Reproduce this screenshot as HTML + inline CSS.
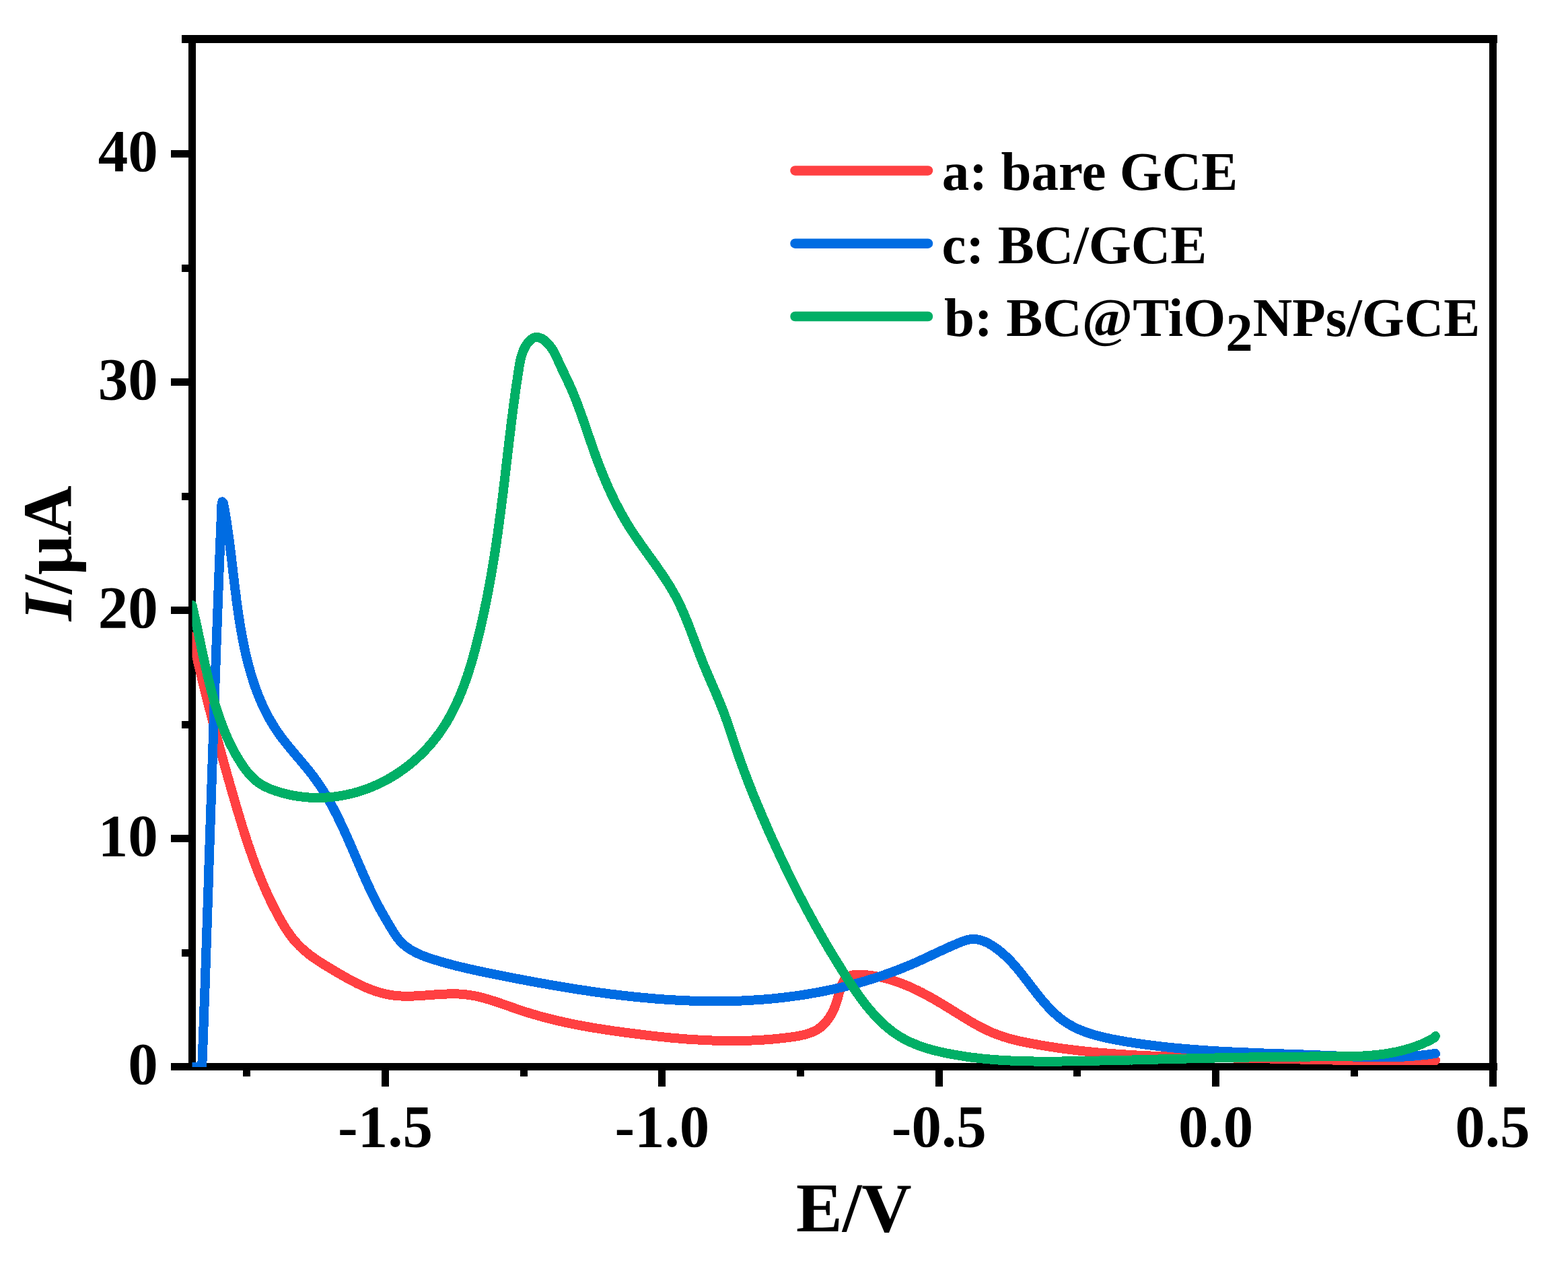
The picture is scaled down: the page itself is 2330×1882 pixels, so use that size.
<!DOCTYPE html><html><head><meta charset="utf-8"><title>I/μA vs E/V</title><style>html,body{margin:0;padding:0;background:#fff}svg{display:block}text{font-family:"Liberation Serif","Times New Roman",serif;font-weight:bold;fill:#000}</style></head><body>
<svg width="2330" height="1882" viewBox="0 0 2330 1882">
<rect width="2330" height="1882" fill="#fff"/>
<g fill="#000" shape-rendering="crispEdges"><rect x="270.0" y="52.0" width="1955.0" height="12.0"/><rect x="280.0" y="52.0" width="11.0" height="1538.0"/><rect x="2213.0" y="52.0" width="11.0" height="1562.0"/><rect x="254.0" y="1579.0" width="1971.0" height="11.0"/><rect x="254.0" y="1240.4" width="26.0" height="11.0"/><rect x="254.0" y="901.3" width="26.0" height="11.0"/><rect x="254.0" y="562.2" width="26.0" height="11.0"/><rect x="254.0" y="223.1" width="26.0" height="11.0"/><rect x="270.0" y="1410.0" width="10.0" height="11.0"/><rect x="270.0" y="1070.8" width="10.0" height="11.0"/><rect x="270.0" y="731.8" width="10.0" height="11.0"/><rect x="270.0" y="392.7" width="10.0" height="11.0"/><rect x="567.0" y="1590.0" width="11.0" height="24.0"/><rect x="978.4" y="1590.0" width="11.0" height="24.0"/><rect x="1389.7" y="1590.0" width="11.0" height="24.0"/><rect x="1801.0" y="1590.0" width="11.0" height="24.0"/><rect x="361.4" y="1590.0" width="11.0" height="9.0"/><rect x="772.7" y="1590.0" width="11.0" height="9.0"/><rect x="1184.0" y="1590.0" width="11.0" height="9.0"/><rect x="1595.4" y="1590.0" width="11.0" height="9.0"/><rect x="2006.7" y="1590.0" width="11.0" height="9.0"/></g>
<g style="font-size:89px">
<text x="234.7" y="1610.0" text-anchor="end">0</text>
<text x="234.7" y="1270.9" text-anchor="end">10</text>
<text x="234.7" y="931.8" text-anchor="end">20</text>
<text x="234.7" y="592.7" text-anchor="end">30</text>
<text x="234.7" y="253.6" text-anchor="end">40</text>
<text x="572.5" y="1702.5" text-anchor="middle">-1.5</text>
<text x="983.9" y="1702.5" text-anchor="middle">-1.0</text>
<text x="1395.2" y="1702.5" text-anchor="middle">-0.5</text>
<text x="1806.5" y="1702.5" text-anchor="middle">0.0</text>
<text x="2217.9" y="1702.5" text-anchor="middle">0.5</text>
</g>
<text x="1183" y="1829" style="font-size:103px">E/V</text>
<text transform="translate(105.7,922.6) rotate(-90)" style="font-size:103px"><tspan font-style="italic">I</tspan>/μA</text>
<defs><clipPath id="pc"><rect x="285.5" y="58" width="1933" height="1527"/></clipPath></defs>
<g clip-path="url(#pc)" shape-rendering="crispEdges" fill="none" stroke-width="14" stroke-linejoin="round" stroke-linecap="round">
<path stroke="#FF4042" d="M285.5,945.5 L286.0,948.5 L286.7,951.4 L287.4,954.3 L288.0,957.2 L288.7,960.2 L289.4,963.1 L290.1,966.0 L290.7,968.9 L291.4,971.8 L292.1,974.7 L292.8,977.7 L293.5,980.6 L294.2,983.5 L294.9,986.4 L295.6,989.3 L296.3,992.2 L297.0,995.2 L297.7,998.1 L298.4,1001.0 L299.1,1003.9 L299.8,1006.8 L300.5,1009.7 L301.2,1012.6 L301.9,1015.5 L302.7,1018.5 L303.4,1021.4 L304.1,1024.3 L304.8,1027.2 L305.5,1030.1 L306.3,1033.0 L307.0,1035.9 L307.7,1038.8 L308.5,1041.7 L309.2,1044.7 L309.9,1047.6 L310.7,1050.5 L311.4,1053.4 L312.2,1056.3 L312.9,1059.2 L313.7,1062.1 L314.4,1065.0 L315.2,1067.9 L315.9,1070.8 L316.7,1073.7 L317.5,1076.6 L318.2,1079.5 L319.0,1082.4 L319.7,1085.3 L320.5,1088.2 L321.3,1091.1 L322.1,1094.0 L322.8,1096.9 L323.6,1099.8 L324.4,1102.7 L325.2,1105.6 L325.9,1108.5 L326.7,1111.4 L327.5,1114.3 L328.3,1117.2 L329.1,1120.1 L329.9,1123.0 L330.7,1125.9 L331.5,1128.8 L332.3,1131.7 L333.1,1134.6 L333.9,1137.4 L334.7,1140.3 L335.5,1143.2 L336.3,1146.1 L337.1,1149.0 L337.9,1151.9 L338.7,1154.8 L339.6,1157.7 L340.4,1160.5 L341.2,1163.4 L342.0,1166.3 L342.8,1169.2 L343.7,1172.1 L344.5,1175.0 L345.3,1177.8 L346.2,1180.7 L347.0,1183.6 L347.8,1186.5 L348.7,1189.4 L349.5,1192.2 L350.4,1195.1 L351.2,1198.0 L352.0,1200.9 L352.9,1203.7 L353.7,1206.6 L354.6,1209.5 L355.5,1212.3 L356.3,1215.2 L357.2,1218.1 L358.1,1220.9 L358.9,1223.8 L359.8,1226.7 L360.7,1229.5 L361.6,1232.4 L362.5,1235.2 L363.4,1238.1 L364.3,1241.0 L365.3,1243.8 L366.2,1246.6 L367.1,1249.5 L368.1,1252.3 L369.0,1255.2 L370.0,1258.0 L370.9,1260.8 L371.9,1263.7 L372.9,1266.5 L373.9,1269.3 L374.9,1272.1 L375.9,1275.0 L376.9,1277.8 L377.9,1280.6 L379.0,1283.4 L380.0,1286.2 L381.1,1289.0 L382.2,1291.8 L383.2,1294.6 L384.3,1297.4 L385.5,1300.2 L386.6,1302.9 L387.7,1305.7 L388.9,1308.5 L390.0,1311.3 L391.2,1314.0 L392.4,1316.8 L393.6,1319.5 L394.8,1322.3 L396.0,1325.0 L397.3,1327.8 L398.5,1330.5 L399.8,1333.2 L401.1,1336.0 L402.4,1338.7 L403.7,1341.4 L405.0,1344.1 L406.4,1346.8 L407.8,1349.5 L409.2,1352.2 L410.6,1354.9 L412.0,1357.6 L413.4,1360.2 L414.9,1362.9 L416.4,1365.6 L417.9,1368.2 L419.4,1370.8 L420.9,1373.4 L422.5,1376.0 L424.1,1378.6 L425.8,1381.1 L427.4,1383.6 L429.2,1386.1 L430.9,1388.5 L432.7,1390.9 L434.5,1393.3 L436.3,1395.6 L438.2,1397.8 L440.2,1400.0 L442.2,1402.2 L444.2,1404.3 L446.3,1406.4 L448.4,1408.4 L450.5,1410.3 L452.7,1412.3 L455.0,1414.1 L457.2,1416.0 L459.5,1417.8 L461.9,1419.6 L464.2,1421.3 L466.6,1423.0 L469.1,1424.7 L471.5,1426.4 L474.0,1428.0 L476.5,1429.6 L479.0,1431.2 L481.5,1432.8 L484.1,1434.4 L486.6,1435.9 L489.2,1437.5 L491.8,1439.0 L494.4,1440.6 L497.0,1442.1 L499.7,1443.7 L502.3,1445.2 L504.9,1446.8 L507.6,1448.3 L510.3,1449.8 L512.9,1451.3 L515.6,1452.8 L518.3,1454.3 L521.0,1455.8 L523.7,1457.2 L526.4,1458.6 L529.1,1460.0 L531.9,1461.4 L534.6,1462.7 L537.4,1464.0 L540.1,1465.3 L542.9,1466.5 L545.7,1467.7 L548.5,1468.8 L551.3,1469.9 L554.1,1471.0 L556.9,1472.0 L559.8,1472.9 L562.6,1473.8 L565.5,1474.6 L568.3,1475.4 L571.2,1476.1 L574.1,1476.8 L577.0,1477.3 L579.9,1477.9 L582.9,1478.3 L585.8,1478.7 L588.7,1479.0 L591.7,1479.2 L594.6,1479.4 L597.6,1479.6 L600.6,1479.7 L603.6,1479.7 L606.6,1479.7 L609.6,1479.7 L612.6,1479.6 L615.6,1479.5 L618.6,1479.4 L621.6,1479.2 L624.6,1479.0 L627.6,1478.9 L630.7,1478.6 L633.7,1478.4 L636.7,1478.2 L639.8,1478.0 L642.8,1477.8 L645.8,1477.5 L648.8,1477.3 L651.9,1477.1 L654.9,1476.9 L657.9,1476.8 L660.9,1476.6 L663.9,1476.5 L666.9,1476.4 L669.9,1476.3 L672.9,1476.3 L675.9,1476.3 L678.9,1476.4 L681.9,1476.5 L684.9,1476.6 L687.8,1476.9 L690.8,1477.1 L693.7,1477.5 L696.7,1477.8 L699.6,1478.3 L702.5,1478.8 L705.4,1479.3 L708.3,1479.9 L711.2,1480.6 L714.1,1481.3 L717.0,1482.0 L719.8,1482.8 L722.7,1483.6 L725.6,1484.4 L728.4,1485.3 L731.3,1486.2 L734.2,1487.1 L737.0,1488.0 L739.9,1489.0 L742.7,1489.9 L745.5,1490.9 L748.4,1491.9 L751.2,1492.9 L754.1,1493.9 L756.9,1494.9 L759.8,1495.9 L762.6,1496.9 L765.5,1497.9 L768.3,1498.9 L771.2,1499.9 L774.0,1500.8 L776.9,1501.8 L779.8,1502.7 L782.6,1503.6 L785.5,1504.5 L788.4,1505.4 L791.3,1506.3 L794.1,1507.1 L797.0,1507.9 L799.9,1508.8 L802.8,1509.6 L805.7,1510.4 L808.6,1511.1 L811.5,1511.9 L814.4,1512.6 L817.3,1513.4 L820.2,1514.1 L823.1,1514.8 L826.0,1515.5 L828.9,1516.2 L831.9,1516.9 L834.8,1517.5 L837.7,1518.2 L840.6,1518.8 L843.6,1519.4 L846.5,1520.1 L849.4,1520.7 L852.4,1521.3 L855.3,1521.8 L858.2,1522.4 L861.2,1523.0 L864.1,1523.5 L867.1,1524.1 L870.0,1524.6 L873.0,1525.1 L875.9,1525.7 L878.9,1526.2 L881.8,1526.7 L884.8,1527.2 L887.7,1527.6 L890.7,1528.1 L893.6,1528.6 L896.6,1529.0 L899.6,1529.5 L902.5,1529.9 L905.5,1530.4 L908.5,1530.8 L911.4,1531.3 L914.4,1531.7 L917.4,1532.1 L920.3,1532.5 L923.3,1532.9 L926.3,1533.3 L929.2,1533.7 L932.2,1534.1 L935.2,1534.5 L938.2,1534.9 L941.1,1535.3 L944.1,1535.6 L947.1,1536.0 L950.1,1536.4 L953.1,1536.7 L956.0,1537.1 L959.0,1537.4 L962.0,1537.8 L965.0,1538.1 L967.9,1538.5 L970.9,1538.8 L973.9,1539.1 L976.9,1539.5 L979.9,1539.8 L982.9,1540.1 L985.8,1540.4 L988.8,1540.7 L991.8,1541.0 L994.8,1541.3 L997.8,1541.6 L1000.8,1541.8 L1003.8,1542.1 L1006.7,1542.4 L1009.7,1542.6 L1012.7,1542.9 L1015.7,1543.1 L1018.7,1543.3 L1021.7,1543.6 L1024.7,1543.8 L1027.7,1544.0 L1030.7,1544.2 L1033.7,1544.4 L1036.7,1544.5 L1039.6,1544.7 L1042.6,1544.9 L1045.6,1545.0 L1048.6,1545.2 L1051.6,1545.3 L1054.6,1545.4 L1057.6,1545.5 L1060.6,1545.6 L1063.6,1545.7 L1066.6,1545.8 L1069.6,1545.9 L1072.6,1546.0 L1075.6,1546.0 L1078.6,1546.1 L1081.6,1546.1 L1084.6,1546.1 L1087.6,1546.1 L1090.6,1546.1 L1093.6,1546.1 L1096.6,1546.1 L1099.6,1546.0 L1102.7,1546.0 L1105.7,1545.9 L1108.7,1545.8 L1111.7,1545.7 L1114.7,1545.6 L1117.7,1545.5 L1120.7,1545.4 L1123.7,1545.2 L1126.7,1545.1 L1129.7,1544.9 L1132.7,1544.7 L1135.8,1544.5 L1138.8,1544.3 L1141.8,1544.1 L1144.8,1543.8 L1147.8,1543.6 L1150.8,1543.3 L1153.8,1543.0 L1156.9,1542.7 L1159.9,1542.4 L1162.9,1542.1 L1165.9,1541.7 L1168.9,1541.4 L1171.9,1541.0 L1175.0,1540.6 L1178.0,1540.2 L1181.0,1539.7 L1184.0,1539.2 L1187.0,1538.7 L1189.9,1538.1 L1192.8,1537.5 L1195.7,1536.8 L1198.6,1536.0 L1201.4,1535.1 L1204.1,1534.2 L1206.8,1533.1 L1209.4,1532.0 L1212.0,1530.7 L1214.5,1529.3 L1216.9,1527.7 L1219.2,1526.0 L1221.4,1524.2 L1223.6,1522.2 L1225.6,1520.1 L1227.6,1517.9 L1229.4,1515.6 L1231.2,1513.1 L1232.9,1510.6 L1234.5,1508.0 L1236.1,1505.2 L1237.5,1502.4 L1238.9,1499.6 L1240.1,1496.7 L1241.3,1493.7 L1242.4,1490.7 L1243.4,1487.6 L1244.3,1484.6 L1245.2,1481.5 L1246.0,1478.4 L1246.8,1475.3 L1247.6,1472.3 L1248.5,1469.3 L1249.4,1466.4 L1250.5,1463.6 L1251.7,1460.9 L1253.0,1458.3 L1254.6,1456.0 L1256.3,1454.0 L1258.2,1452.2 L1260.4,1450.7 L1262.8,1449.6 L1265.4,1448.8 L1268.1,1448.2 L1271.0,1447.9 L1274.0,1447.7 L1277.1,1447.7 L1280.2,1447.8 L1283.2,1448.0 L1286.3,1448.2 L1289.3,1448.5 L1292.4,1448.8 L1295.4,1449.2 L1298.4,1449.6 L1301.3,1450.1 L1304.3,1450.6 L1307.2,1451.2 L1310.2,1451.8 L1313.1,1452.5 L1316.0,1453.2 L1318.9,1454.0 L1321.8,1454.8 L1324.6,1455.7 L1327.5,1456.6 L1330.3,1457.5 L1333.1,1458.5 L1336.0,1459.5 L1338.8,1460.5 L1341.6,1461.6 L1344.3,1462.7 L1347.1,1463.8 L1349.9,1465.0 L1352.6,1466.2 L1355.3,1467.4 L1358.1,1468.7 L1360.8,1470.0 L1363.5,1471.3 L1366.2,1472.7 L1368.9,1474.0 L1371.6,1475.4 L1374.2,1476.8 L1376.9,1478.2 L1379.6,1479.7 L1382.2,1481.1 L1384.9,1482.6 L1387.5,1484.1 L1390.1,1485.6 L1392.7,1487.2 L1395.4,1488.7 L1398.0,1490.2 L1400.6,1491.8 L1403.2,1493.4 L1405.7,1494.9 L1408.3,1496.5 L1410.9,1498.1 L1413.5,1499.7 L1416.1,1501.3 L1418.6,1502.9 L1421.2,1504.5 L1423.8,1506.1 L1426.3,1507.6 L1428.9,1509.2 L1431.4,1510.8 L1434.0,1512.4 L1436.6,1513.9 L1439.2,1515.5 L1441.7,1517.0 L1444.3,1518.5 L1446.9,1520.0 L1449.5,1521.4 L1452.1,1522.9 L1454.7,1524.3 L1457.4,1525.7 L1460.0,1527.1 L1462.7,1528.4 L1465.3,1529.7 L1468.0,1531.0 L1470.7,1532.2 L1473.4,1533.4 L1476.1,1534.5 L1478.9,1535.6 L1481.7,1536.7 L1484.5,1537.7 L1487.3,1538.7 L1490.1,1539.7 L1492.9,1540.6 L1495.8,1541.4 L1498.7,1542.3 L1501.5,1543.1 L1504.4,1543.8 L1507.3,1544.6 L1510.3,1545.3 L1513.2,1546.0 L1516.1,1546.7 L1519.1,1547.3 L1522.0,1547.9 L1525.0,1548.5 L1527.9,1549.1 L1530.9,1549.7 L1533.9,1550.3 L1536.8,1550.8 L1539.8,1551.3 L1542.8,1551.9 L1545.7,1552.4 L1548.7,1552.9 L1551.7,1553.4 L1554.6,1553.9 L1557.6,1554.4 L1560.6,1554.8 L1563.6,1555.3 L1566.5,1555.7 L1569.5,1556.2 L1572.5,1556.6 L1575.5,1557.0 L1578.4,1557.5 L1581.4,1557.9 L1584.4,1558.3 L1587.4,1558.6 L1590.4,1559.0 L1593.3,1559.4 L1596.3,1559.8 L1599.3,1560.1 L1602.3,1560.5 L1605.3,1560.8 L1608.2,1561.1 L1611.2,1561.4 L1614.2,1561.8 L1617.2,1562.1 L1620.2,1562.4 L1623.2,1562.7 L1626.2,1562.9 L1629.1,1563.2 L1632.1,1563.5 L1635.1,1563.8 L1638.1,1564.0 L1641.1,1564.3 L1644.1,1564.5 L1647.1,1564.8 L1650.1,1565.0 L1653.0,1565.2 L1656.0,1565.4 L1659.0,1565.6 L1662.0,1565.9 L1665.0,1566.1 L1668.0,1566.2 L1671.0,1566.4 L1674.0,1566.6 L1677.0,1566.8 L1680.0,1567.0 L1683.0,1567.1 L1686.0,1567.3 L1689.0,1567.5 L1692.0,1567.6 L1695.0,1567.8 L1698.0,1567.9 L1700.9,1568.1 L1703.9,1568.2 L1706.9,1568.3 L1709.9,1568.5 L1712.9,1568.6 L1715.9,1568.7 L1718.9,1568.8 L1721.9,1568.9 L1724.9,1569.0 L1727.9,1569.1 L1730.9,1569.2 L1733.9,1569.3 L1736.9,1569.4 L1739.9,1569.5 L1742.9,1569.6 L1745.9,1569.7 L1748.9,1569.8 L1751.9,1569.9 L1754.9,1570.0 L1757.9,1570.0 L1760.9,1570.1 L1763.9,1570.2 L1766.9,1570.2 L1769.9,1570.3 L1772.9,1570.4 L1775.9,1570.4 L1778.9,1570.5 L1781.9,1570.6 L1784.9,1570.6 L1787.9,1570.7 L1790.9,1570.7 L1793.9,1570.8 L1796.9,1570.9 L1799.9,1570.9 L1802.9,1571.0 L1805.9,1571.0 L1809.0,1571.1 L1812.0,1571.1 L1815.0,1571.2 L1818.0,1571.2 L1821.0,1571.3 L1824.0,1571.3 L1827.0,1571.4 L1830.0,1571.4 L1833.0,1571.5 L1836.0,1571.5 L1839.0,1571.6 L1842.0,1571.6 L1845.0,1571.7 L1848.0,1571.7 L1851.0,1571.8 L1854.0,1571.8 L1857.0,1571.9 L1860.0,1572.0 L1863.0,1572.0 L1866.0,1572.1 L1869.0,1572.1 L1872.0,1572.2 L1875.0,1572.3 L1878.0,1572.3 L1881.0,1572.4 L1884.0,1572.4 L1887.0,1572.5 L1890.0,1572.6 L1893.0,1572.6 L1896.0,1572.7 L1899.0,1572.8 L1902.0,1572.8 L1905.0,1572.9 L1908.0,1573.0 L1911.0,1573.0 L1914.0,1573.1 L1917.0,1573.2 L1920.0,1573.2 L1923.0,1573.3 L1926.0,1573.4 L1929.0,1573.4 L1932.0,1573.5 L1935.0,1573.6 L1938.0,1573.6 L1941.0,1573.7 L1944.0,1573.7 L1947.0,1573.8 L1950.0,1573.9 L1953.0,1573.9 L1956.0,1574.0 L1959.0,1574.1 L1962.0,1574.1 L1965.0,1574.2 L1968.0,1574.2 L1971.0,1574.3 L1974.0,1574.4 L1977.0,1574.4 L1980.0,1574.5 L1983.0,1574.5 L1986.0,1574.6 L1989.0,1574.6 L1992.0,1574.7 L1995.0,1574.7 L1998.0,1574.8 L2001.0,1574.8 L2004.0,1574.9 L2007.0,1574.9 L2010.0,1575.0 L2013.0,1575.0 L2016.0,1575.0 L2019.0,1575.1 L2022.0,1575.1 L2025.0,1575.1 L2028.0,1575.2 L2031.0,1575.2 L2034.0,1575.2 L2037.0,1575.3 L2040.0,1575.3 L2043.0,1575.3 L2046.0,1575.3 L2049.0,1575.4 L2052.0,1575.4 L2055.0,1575.4 L2058.0,1575.4 L2061.0,1575.4 L2064.0,1575.4 L2067.0,1575.4 L2070.0,1575.4 L2073.0,1575.4 L2076.0,1575.4 L2079.0,1575.4 L2082.0,1575.4 L2085.0,1575.4 L2088.0,1575.4 L2091.0,1575.4 L2094.0,1575.4 L2097.0,1575.4 L2100.0,1575.3 L2103.0,1575.3 L2106.0,1575.3 L2109.0,1575.2 L2112.0,1575.2 L2115.0,1575.2 L2118.0,1575.1 L2121.0,1575.1 L2124.0,1575.0 L2127.0,1575.0 L2130.0,1574.9 L2133.0,1575.0"/>
<path stroke="#006CE2" d="M280.0,1584.5 L299.5,1584.5 L300.5,1576.0 L300.8,1573.0 L300.9,1570.0 L301.0,1567.0 L301.1,1564.0 L301.2,1561.0 L301.3,1558.0 L301.4,1555.0 L301.5,1552.0 L301.7,1549.0 L301.8,1546.0 L301.9,1543.0 L302.0,1540.0 L302.1,1537.0 L302.2,1534.0 L302.3,1531.0 L302.4,1528.0 L302.5,1525.0 L302.6,1522.0 L302.7,1519.0 L302.8,1516.0 L302.9,1513.0 L303.0,1510.0 L303.1,1507.0 L303.2,1504.0 L303.3,1501.0 L303.4,1498.0 L303.5,1495.0 L303.6,1492.0 L303.7,1489.0 L303.8,1486.0 L304.0,1483.0 L304.1,1480.0 L304.2,1477.0 L304.3,1474.0 L304.4,1471.0 L304.5,1468.0 L304.6,1465.0 L304.7,1462.0 L304.8,1459.0 L304.9,1456.0 L305.0,1453.0 L305.1,1450.0 L305.2,1447.0 L305.3,1444.0 L305.4,1441.0 L305.5,1438.0 L305.6,1435.0 L305.7,1432.0 L305.8,1429.0 L305.9,1426.0 L306.0,1423.0 L306.1,1420.0 L306.2,1417.0 L306.3,1414.0 L306.4,1411.1 L306.5,1408.1 L306.6,1405.1 L306.7,1402.1 L306.8,1399.1 L306.9,1396.1 L307.0,1393.1 L307.1,1390.1 L307.2,1387.1 L307.3,1384.1 L307.4,1381.1 L307.5,1378.1 L307.6,1375.1 L307.7,1372.1 L307.8,1369.1 L307.9,1366.1 L308.0,1363.1 L308.1,1360.1 L308.2,1357.1 L308.3,1354.1 L308.4,1351.1 L308.5,1348.1 L308.6,1345.1 L308.7,1342.1 L308.8,1339.1 L308.9,1336.1 L309.0,1333.1 L309.1,1330.1 L309.2,1327.1 L309.3,1324.1 L309.4,1321.1 L309.5,1318.1 L309.6,1315.1 L309.7,1312.1 L309.8,1309.1 L309.9,1306.1 L310.0,1303.1 L310.1,1300.1 L310.1,1297.1 L310.2,1294.1 L310.3,1291.1 L310.4,1288.1 L310.5,1285.1 L310.6,1282.1 L310.7,1279.1 L310.8,1276.1 L310.9,1273.1 L311.0,1270.1 L311.1,1267.1 L311.2,1264.1 L311.3,1261.1 L311.4,1258.1 L311.5,1255.1 L311.6,1252.1 L311.7,1249.1 L311.8,1246.1 L311.9,1243.1 L312.0,1240.1 L312.1,1237.1 L312.2,1234.1 L312.3,1231.1 L312.4,1228.1 L312.5,1225.1 L312.6,1222.1 L312.7,1219.1 L312.8,1216.1 L312.9,1213.1 L313.0,1210.1 L313.1,1207.1 L313.2,1204.1 L313.3,1201.1 L313.4,1198.1 L313.5,1195.1 L313.6,1192.1 L313.7,1189.1 L313.8,1186.1 L313.9,1183.1 L314.0,1180.1 L314.1,1177.1 L314.2,1174.1 L314.3,1171.1 L314.4,1168.1 L314.5,1165.1 L314.6,1162.1 L314.7,1159.1 L314.8,1156.1 L314.9,1153.1 L315.0,1150.1 L315.1,1147.1 L315.2,1144.1 L315.3,1141.1 L315.4,1138.1 L315.5,1135.1 L315.6,1132.1 L315.7,1129.1 L315.8,1126.1 L315.9,1123.1 L316.0,1120.1 L316.1,1117.1 L316.2,1114.1 L316.3,1111.1 L316.4,1108.1 L316.5,1105.1 L316.6,1102.1 L316.7,1099.1 L316.8,1096.1 L316.9,1093.1 L317.0,1090.1 L317.1,1087.1 L317.2,1084.1 L317.3,1081.1 L317.4,1078.1 L317.5,1075.1 L317.6,1072.1 L317.7,1069.1 L317.8,1066.1 L317.9,1063.1 L318.0,1060.1 L318.1,1057.1 L318.2,1054.1 L318.3,1051.1 L318.4,1048.1 L318.5,1045.1 L318.6,1042.1 L318.7,1039.1 L318.8,1036.1 L318.9,1033.1 L319.0,1030.1 L319.1,1027.1 L319.2,1024.1 L319.3,1021.1 L319.4,1018.1 L319.5,1015.1 L319.6,1012.1 L319.7,1009.1 L319.8,1006.1 L319.9,1003.1 L320.0,1000.1 L320.1,997.1 L320.3,994.1 L320.4,991.1 L320.5,988.1 L320.6,985.1 L320.7,982.1 L320.8,979.1 L320.9,976.1 L321.0,973.1 L321.1,970.1 L321.2,967.1 L321.3,964.1 L321.4,961.1 L321.5,958.1 L321.6,955.1 L321.7,952.1 L321.8,949.1 L322.0,946.1 L322.1,943.1 L322.2,940.1 L322.3,937.2 L322.4,934.2 L322.5,931.2 L322.6,928.2 L322.7,925.2 L322.8,922.2 L322.9,919.2 L323.0,916.2 L323.2,913.2 L323.3,910.2 L323.4,907.2 L323.5,904.2 L323.6,901.2 L323.7,898.2 L323.8,895.2 L323.9,892.2 L324.0,889.2 L324.2,886.2 L324.3,883.2 L324.4,880.2 L324.5,877.2 L324.6,874.2 L324.7,871.2 L324.8,868.2 L324.9,865.2 L325.1,862.2 L325.2,859.2 L325.3,856.2 L325.4,853.2 L325.5,850.2 L325.6,847.2 L325.7,844.2 L325.9,841.2 L326.0,838.2 L326.1,835.2 L326.2,832.2 L326.3,829.2 L326.4,826.2 L326.6,823.2 L326.7,820.2 L326.8,817.2 L326.9,814.2 L327.0,811.2 L327.1,808.2 L327.3,805.2 L327.4,802.2 L327.5,799.2 L327.6,796.2 L327.7,793.2 L327.9,790.2 L328.0,787.2 L328.1,784.2 L328.2,781.2 L328.3,778.2 L328.5,775.2 L328.6,772.2 L328.7,769.2 L328.8,766.2 L329.0,763.2 L329.1,760.2 L329.2,757.2 L329.3,754.2 L329.4,751.2 L329.6,748.2 L330.3,745.3 L332.0,747.5 L332.5,750.4 L333.0,753.3 L333.6,756.2 L334.1,759.2 L334.6,762.1 L335.1,765.0 L335.6,767.9 L336.0,770.9 L336.5,773.8 L336.9,776.8 L337.4,779.7 L337.8,782.6 L338.3,785.6 L338.7,788.5 L339.1,791.5 L339.5,794.4 L339.9,797.4 L340.3,800.4 L340.7,803.3 L341.1,806.3 L341.5,809.2 L341.8,812.2 L342.2,815.2 L342.6,818.2 L342.9,821.1 L343.3,824.1 L343.7,827.1 L344.0,830.0 L344.4,833.0 L344.7,836.0 L345.1,839.0 L345.4,842.0 L345.8,844.9 L346.1,847.9 L346.5,850.9 L346.8,853.9 L347.2,856.9 L347.5,859.9 L347.9,862.8 L348.3,865.8 L348.6,868.8 L349.0,871.8 L349.3,874.8 L349.7,877.8 L350.1,880.7 L350.5,883.7 L350.8,886.7 L351.2,889.7 L351.6,892.7 L352.0,895.7 L352.4,898.6 L352.8,901.6 L353.2,904.6 L353.7,907.6 L354.1,910.6 L354.5,913.5 L355.0,916.5 L355.4,919.5 L355.9,922.4 L356.4,925.4 L356.9,928.4 L357.3,931.3 L357.8,934.3 L358.4,937.3 L358.9,940.2 L359.4,943.2 L360.0,946.1 L360.5,949.1 L361.1,952.0 L361.7,955.0 L362.3,957.9 L362.9,960.9 L363.5,963.8 L364.2,966.8 L364.8,969.7 L365.5,972.6 L366.2,975.5 L366.9,978.5 L367.6,981.4 L368.3,984.3 L369.1,987.2 L369.9,990.1 L370.7,993.0 L371.5,995.9 L372.3,998.8 L373.1,1001.7 L374.0,1004.5 L374.9,1007.4 L375.8,1010.3 L376.7,1013.1 L377.7,1016.0 L378.6,1018.8 L379.6,1021.6 L380.7,1024.4 L381.7,1027.2 L382.8,1030.0 L383.8,1032.8 L385.0,1035.6 L386.1,1038.3 L387.3,1041.1 L388.4,1043.8 L389.7,1046.5 L390.9,1049.2 L392.2,1051.9 L393.5,1054.6 L394.8,1057.3 L396.1,1059.9 L397.5,1062.6 L398.9,1065.2 L400.4,1067.8 L401.9,1070.4 L403.4,1072.9 L404.9,1075.5 L406.5,1078.0 L408.0,1080.5 L409.7,1083.0 L411.3,1085.5 L413.0,1088.0 L414.8,1090.4 L416.5,1092.9 L418.3,1095.3 L420.1,1097.7 L422.0,1100.1 L423.8,1102.4 L425.7,1104.8 L427.6,1107.1 L429.5,1109.5 L431.4,1111.8 L433.3,1114.1 L435.3,1116.5 L437.2,1118.8 L439.2,1121.1 L441.2,1123.4 L443.1,1125.7 L445.1,1128.0 L447.0,1130.3 L449.0,1132.7 L450.9,1135.0 L452.9,1137.3 L454.8,1139.6 L456.7,1142.0 L458.6,1144.3 L460.5,1146.7 L462.3,1149.1 L464.2,1151.4 L466.0,1153.8 L467.8,1156.3 L469.5,1158.7 L471.3,1161.1 L473.0,1163.6 L474.7,1166.1 L476.3,1168.5 L478.0,1171.0 L479.6,1173.5 L481.2,1176.1 L482.7,1178.6 L484.3,1181.2 L485.8,1183.7 L487.3,1186.3 L488.8,1188.9 L490.3,1191.5 L491.7,1194.1 L493.1,1196.7 L494.6,1199.3 L496.0,1202.0 L497.3,1204.6 L498.7,1207.3 L500.1,1209.9 L501.4,1212.6 L502.7,1215.3 L504.0,1218.0 L505.3,1220.7 L506.6,1223.4 L507.9,1226.1 L509.2,1228.8 L510.4,1231.5 L511.7,1234.2 L512.9,1237.0 L514.1,1239.7 L515.4,1242.4 L516.6,1245.2 L517.8,1247.9 L519.0,1250.7 L520.2,1253.4 L521.4,1256.2 L522.6,1258.9 L523.8,1261.7 L525.0,1264.5 L526.2,1267.2 L527.3,1270.0 L528.5,1272.7 L529.7,1275.5 L530.9,1278.3 L532.1,1281.0 L533.3,1283.8 L534.5,1286.6 L535.7,1289.3 L536.9,1292.1 L538.1,1294.8 L539.3,1297.6 L540.5,1300.3 L541.7,1303.1 L542.9,1305.8 L544.2,1308.6 L545.4,1311.3 L546.7,1314.0 L547.9,1316.8 L549.2,1319.5 L550.5,1322.2 L551.8,1324.9 L553.1,1327.6 L554.4,1330.3 L555.7,1333.0 L557.1,1335.7 L558.4,1338.3 L559.8,1341.0 L561.2,1343.7 L562.6,1346.3 L564.0,1349.0 L565.4,1351.6 L566.9,1354.2 L568.4,1356.8 L569.8,1359.4 L571.3,1362.0 L572.9,1364.6 L574.4,1367.2 L575.9,1369.8 L577.5,1372.4 L579.0,1375.0 L580.5,1377.6 L582.1,1380.2 L583.7,1382.8 L585.3,1385.4 L586.9,1387.9 L588.6,1390.4 L590.4,1392.8 L592.2,1395.2 L594.1,1397.4 L596.1,1399.5 L598.2,1401.6 L600.3,1403.5 L602.6,1405.4 L604.9,1407.1 L607.3,1408.8 L609.7,1410.4 L612.3,1411.9 L614.8,1413.3 L617.5,1414.7 L620.1,1416.0 L622.8,1417.3 L625.6,1418.5 L628.4,1419.6 L631.2,1420.7 L634.1,1421.8 L636.9,1422.8 L639.8,1423.7 L642.7,1424.7 L645.7,1425.6 L648.6,1426.5 L651.5,1427.4 L654.4,1428.2 L657.3,1429.1 L660.2,1429.9 L663.1,1430.7 L666.1,1431.5 L669.0,1432.3 L671.9,1433.1 L674.8,1433.8 L677.7,1434.6 L680.6,1435.3 L683.5,1436.0 L686.4,1436.7 L689.3,1437.4 L692.3,1438.1 L695.2,1438.8 L698.1,1439.4 L701.0,1440.1 L703.9,1440.7 L706.8,1441.4 L709.7,1442.0 L712.6,1442.6 L715.6,1443.2 L718.5,1443.9 L721.4,1444.5 L724.3,1445.1 L727.2,1445.7 L730.1,1446.3 L733.1,1446.8 L736.0,1447.4 L738.9,1448.0 L741.8,1448.6 L744.8,1449.2 L747.7,1449.8 L750.6,1450.3 L753.6,1450.9 L756.5,1451.5 L759.4,1452.1 L762.4,1452.6 L765.3,1453.2 L768.2,1453.8 L771.2,1454.3 L774.1,1454.9 L777.1,1455.5 L780.0,1456.0 L782.9,1456.6 L785.9,1457.1 L788.8,1457.7 L791.8,1458.2 L794.7,1458.8 L797.7,1459.3 L800.6,1459.8 L803.6,1460.4 L806.5,1460.9 L809.5,1461.4 L812.5,1461.9 L815.4,1462.5 L818.4,1463.0 L821.3,1463.5 L824.3,1464.0 L827.3,1464.5 L830.2,1465.0 L833.2,1465.5 L836.2,1466.0 L839.1,1466.5 L842.1,1467.0 L845.1,1467.5 L848.0,1467.9 L851.0,1468.4 L854.0,1468.9 L857.0,1469.4 L859.9,1469.8 L862.9,1470.3 L865.9,1470.7 L868.9,1471.2 L871.8,1471.6 L874.8,1472.1 L877.8,1472.5 L880.8,1472.9 L883.7,1473.4 L886.7,1473.8 L889.7,1474.2 L892.7,1474.6 L895.7,1475.0 L898.7,1475.4 L901.6,1475.8 L904.6,1476.2 L907.6,1476.6 L910.6,1476.9 L913.6,1477.3 L916.6,1477.7 L919.6,1478.0 L922.5,1478.4 L925.5,1478.7 L928.5,1479.1 L931.5,1479.4 L934.5,1479.7 L937.5,1480.1 L940.5,1480.4 L943.5,1480.7 L946.5,1481.0 L949.5,1481.3 L952.5,1481.6 L955.4,1481.9 L958.4,1482.2 L961.4,1482.4 L964.4,1482.7 L967.4,1483.0 L970.4,1483.2 L973.4,1483.5 L976.4,1483.7 L979.4,1483.9 L982.4,1484.1 L985.4,1484.4 L988.4,1484.6 L991.4,1484.8 L994.4,1485.0 L997.4,1485.2 L1000.4,1485.3 L1003.4,1485.5 L1006.4,1485.7 L1009.4,1485.8 L1012.4,1486.0 L1015.3,1486.1 L1018.3,1486.3 L1021.3,1486.4 L1024.3,1486.5 L1027.3,1486.6 L1030.3,1486.7 L1033.3,1486.8 L1036.3,1486.9 L1039.3,1487.0 L1042.3,1487.0 L1045.3,1487.1 L1048.3,1487.1 L1051.3,1487.2 L1054.3,1487.2 L1057.3,1487.2 L1060.3,1487.2 L1063.3,1487.2 L1066.3,1487.2 L1069.3,1487.2 L1072.2,1487.2 L1075.2,1487.2 L1078.2,1487.1 L1081.2,1487.1 L1084.2,1487.0 L1087.2,1487.0 L1090.2,1486.9 L1093.2,1486.8 L1096.2,1486.7 L1099.2,1486.6 L1102.1,1486.5 L1105.1,1486.3 L1108.1,1486.2 L1111.1,1486.1 L1114.1,1485.9 L1117.1,1485.7 L1120.1,1485.5 L1123.0,1485.4 L1126.0,1485.2 L1129.0,1485.0 L1132.0,1484.7 L1135.0,1484.5 L1138.0,1484.3 L1140.9,1484.0 L1143.9,1483.7 L1146.9,1483.5 L1149.9,1483.2 L1152.9,1482.9 L1155.8,1482.6 L1158.8,1482.3 L1161.8,1481.9 L1164.8,1481.6 L1167.7,1481.3 L1170.7,1480.9 L1173.7,1480.5 L1176.6,1480.1 L1179.6,1479.7 L1182.6,1479.3 L1185.5,1478.9 L1188.5,1478.5 L1191.5,1478.0 L1194.4,1477.6 L1197.4,1477.1 L1200.4,1476.6 L1203.3,1476.1 L1206.3,1475.6 L1209.2,1475.1 L1212.2,1474.6 L1215.1,1474.0 L1218.1,1473.5 L1221.1,1472.9 L1224.0,1472.3 L1226.9,1471.7 L1229.9,1471.1 L1232.8,1470.5 L1235.8,1469.9 L1238.7,1469.3 L1241.6,1468.6 L1244.6,1467.9 L1247.5,1467.3 L1250.4,1466.6 L1253.4,1465.9 L1256.3,1465.2 L1259.2,1464.4 L1262.1,1463.7 L1265.0,1462.9 L1267.9,1462.2 L1270.8,1461.4 L1273.7,1460.6 L1276.6,1459.8 L1279.5,1459.0 L1282.4,1458.1 L1285.3,1457.3 L1288.2,1456.4 L1291.1,1455.6 L1294.0,1454.7 L1296.8,1453.8 L1299.7,1452.9 L1302.6,1451.9 L1305.4,1451.0 L1308.3,1450.0 L1311.1,1449.1 L1314.0,1448.1 L1316.8,1447.1 L1319.6,1446.1 L1322.5,1445.1 L1325.3,1444.0 L1328.1,1443.0 L1330.9,1441.9 L1333.8,1440.9 L1336.6,1439.8 L1339.4,1438.7 L1342.1,1437.6 L1344.9,1436.4 L1347.7,1435.3 L1350.5,1434.1 L1353.3,1433.0 L1356.0,1431.8 L1358.8,1430.6 L1361.5,1429.4 L1364.3,1428.1 L1367.0,1426.9 L1369.8,1425.6 L1372.5,1424.4 L1375.2,1423.1 L1378.0,1421.8 L1380.7,1420.6 L1383.4,1419.3 L1386.1,1418.0 L1388.9,1416.7 L1391.6,1415.5 L1394.3,1414.2 L1397.0,1412.9 L1399.8,1411.6 L1402.5,1410.4 L1405.2,1409.1 L1408.0,1407.9 L1410.7,1406.7 L1413.4,1405.4 L1416.2,1404.2 L1419.0,1403.1 L1421.7,1401.9 L1424.5,1400.7 L1427.3,1399.6 L1430.1,1398.5 L1432.9,1397.5 L1435.7,1396.6 L1438.5,1395.9 L1441.3,1395.4 L1444.1,1395.1 L1446.9,1395.0 L1449.7,1395.1 L1452.5,1395.5 L1455.2,1396.1 L1458.0,1396.8 L1460.7,1397.7 L1463.5,1398.8 L1466.2,1400.0 L1468.8,1401.3 L1471.4,1402.8 L1474.0,1404.4 L1476.6,1406.0 L1479.1,1407.7 L1481.5,1409.5 L1483.9,1411.3 L1486.3,1413.2 L1488.6,1415.1 L1490.8,1417.1 L1493.1,1419.1 L1495.3,1421.1 L1497.4,1423.2 L1499.5,1425.3 L1501.6,1427.4 L1503.6,1429.6 L1505.7,1431.8 L1507.6,1434.1 L1509.6,1436.3 L1511.6,1438.6 L1513.5,1440.9 L1515.4,1443.3 L1517.3,1445.6 L1519.2,1448.0 L1521.1,1450.4 L1522.9,1452.8 L1524.8,1455.2 L1526.7,1457.6 L1528.5,1460.0 L1530.4,1462.4 L1532.2,1464.9 L1534.1,1467.3 L1536.0,1469.7 L1537.8,1472.2 L1539.7,1474.6 L1541.6,1477.0 L1543.6,1479.4 L1545.5,1481.8 L1547.4,1484.1 L1549.4,1486.5 L1551.4,1488.8 L1553.4,1491.1 L1555.4,1493.4 L1557.5,1495.6 L1559.5,1497.8 L1561.6,1500.0 L1563.7,1502.1 L1565.9,1504.2 L1568.1,1506.2 L1570.3,1508.2 L1572.5,1510.1 L1574.8,1512.0 L1577.1,1513.8 L1579.5,1515.6 L1581.9,1517.3 L1584.3,1518.9 L1586.8,1520.5 L1589.3,1522.0 L1591.8,1523.4 L1594.4,1524.8 L1597.0,1526.2 L1599.6,1527.4 L1602.3,1528.7 L1605.0,1529.8 L1607.7,1530.9 L1610.5,1532.0 L1613.2,1533.1 L1616.0,1534.0 L1618.9,1535.0 L1621.7,1535.9 L1624.6,1536.8 L1627.4,1537.6 L1630.3,1538.4 L1633.2,1539.1 L1636.2,1539.9 L1639.1,1540.6 L1642.1,1541.3 L1645.0,1541.9 L1648.0,1542.5 L1651.0,1543.2 L1653.9,1543.7 L1656.9,1544.3 L1659.9,1544.9 L1662.9,1545.4 L1665.9,1545.9 L1668.9,1546.5 L1671.9,1547.0 L1674.9,1547.5 L1677.9,1547.9 L1680.9,1548.4 L1683.9,1548.9 L1686.8,1549.4 L1689.8,1549.8 L1692.8,1550.2 L1695.8,1550.7 L1698.8,1551.1 L1701.8,1551.5 L1704.8,1551.9 L1707.8,1552.3 L1710.8,1552.7 L1713.8,1553.1 L1716.8,1553.4 L1719.8,1553.8 L1722.7,1554.1 L1725.7,1554.5 L1728.7,1554.8 L1731.7,1555.1 L1734.7,1555.5 L1737.7,1555.8 L1740.7,1556.1 L1743.7,1556.4 L1746.7,1556.7 L1749.6,1557.0 L1752.6,1557.2 L1755.6,1557.5 L1758.6,1557.8 L1761.6,1558.0 L1764.6,1558.3 L1767.6,1558.5 L1770.6,1558.8 L1773.6,1559.0 L1776.5,1559.2 L1779.5,1559.4 L1782.5,1559.7 L1785.5,1559.9 L1788.5,1560.1 L1791.5,1560.3 L1794.5,1560.5 L1797.5,1560.7 L1800.5,1560.9 L1803.4,1561.0 L1806.4,1561.2 L1809.4,1561.4 L1812.4,1561.6 L1815.4,1561.7 L1818.4,1561.9 L1821.4,1562.0 L1824.4,1562.2 L1827.4,1562.3 L1830.3,1562.5 L1833.3,1562.6 L1836.3,1562.8 L1839.3,1562.9 L1842.3,1563.0 L1845.3,1563.2 L1848.3,1563.3 L1851.3,1563.4 L1854.3,1563.5 L1857.3,1563.7 L1860.2,1563.8 L1863.2,1563.9 L1866.2,1564.0 L1869.2,1564.1 L1872.2,1564.2 L1875.2,1564.4 L1878.2,1564.5 L1881.2,1564.6 L1884.2,1564.7 L1887.2,1564.8 L1890.2,1564.9 L1893.2,1565.0 L1896.2,1565.1 L1899.2,1565.2 L1902.1,1565.3 L1905.1,1565.4 L1908.1,1565.5 L1911.1,1565.6 L1914.1,1565.7 L1917.1,1565.8 L1920.1,1565.9 L1923.1,1566.0 L1926.1,1566.1 L1929.1,1566.2 L1932.1,1566.3 L1935.1,1566.4 L1938.1,1566.6 L1941.1,1566.7 L1944.1,1566.8 L1947.1,1566.9 L1950.1,1567.0 L1953.1,1567.1 L1956.1,1567.2 L1959.1,1567.4 L1962.1,1567.5 L1965.1,1567.6 L1968.1,1567.7 L1971.1,1567.9 L1974.1,1568.0 L1977.1,1568.1 L1980.1,1568.3 L1983.1,1568.4 L1986.1,1568.5 L1989.1,1568.7 L1992.1,1568.8 L1995.1,1568.9 L1998.2,1569.0 L2001.2,1569.2 L2004.2,1569.3 L2007.2,1569.4 L2010.2,1569.5 L2013.2,1569.6 L2016.2,1569.7 L2019.2,1569.8 L2022.2,1569.9 L2025.2,1570.0 L2028.2,1570.1 L2031.2,1570.1 L2034.2,1570.2 L2037.2,1570.3 L2040.2,1570.3 L2043.2,1570.3 L2046.2,1570.4 L2049.2,1570.4 L2052.2,1570.4 L2055.2,1570.4 L2058.2,1570.4 L2061.2,1570.3 L2064.2,1570.3 L2067.2,1570.2 L2070.2,1570.2 L2073.2,1570.1 L2076.2,1570.0 L2079.2,1569.9 L2082.2,1569.7 L2085.2,1569.6 L2088.2,1569.4 L2091.2,1569.3 L2094.2,1569.1 L2097.2,1568.9 L2100.2,1568.6 L2103.2,1568.4 L2106.1,1568.1 L2109.1,1567.8 L2112.1,1567.5 L2115.1,1567.2 L2118.1,1566.9 L2121.1,1566.5 L2124.1,1566.1 L2127.0,1565.7 L2130.0,1565.2 L2133.0,1565.0"/>
<path stroke="#00AF66" d="M285.5,899.0 L286.1,902.0 L286.8,904.9 L287.5,907.8 L288.1,910.7 L288.8,913.6 L289.5,916.5 L290.1,919.4 L290.8,922.4 L291.4,925.3 L292.1,928.2 L292.7,931.1 L293.3,934.1 L294.0,937.0 L294.6,939.9 L295.2,942.9 L295.8,945.8 L296.4,948.7 L297.1,951.7 L297.7,954.6 L298.3,957.6 L298.9,960.5 L299.5,963.4 L300.2,966.4 L300.8,969.3 L301.4,972.3 L302.1,975.2 L302.7,978.1 L303.3,981.1 L304.0,984.0 L304.6,987.0 L305.3,989.9 L305.9,992.8 L306.6,995.7 L307.3,998.7 L308.0,1001.6 L308.6,1004.5 L309.3,1007.5 L310.0,1010.4 L310.8,1013.3 L311.5,1016.2 L312.2,1019.1 L313.0,1022.0 L313.7,1024.9 L314.5,1027.8 L315.3,1030.7 L316.1,1033.6 L316.9,1036.5 L317.7,1039.4 L318.5,1042.2 L319.4,1045.1 L320.2,1048.0 L321.1,1050.8 L322.0,1053.7 L322.9,1056.6 L323.9,1059.4 L324.8,1062.2 L325.8,1065.1 L326.8,1067.9 L327.8,1070.7 L328.8,1073.5 L329.8,1076.3 L330.9,1079.1 L332.0,1081.9 L333.1,1084.7 L334.2,1087.5 L335.4,1090.2 L336.5,1093.0 L337.8,1095.7 L339.0,1098.4 L340.2,1101.2 L341.5,1103.9 L342.8,1106.6 L344.2,1109.2 L345.6,1111.9 L347.0,1114.6 L348.4,1117.2 L349.9,1119.8 L351.4,1122.5 L352.9,1125.0 L354.5,1127.6 L356.1,1130.2 L357.7,1132.8 L359.4,1135.3 L361.1,1137.8 L362.8,1140.3 L364.6,1142.7 L366.4,1145.1 L368.3,1147.5 L370.3,1149.8 L372.3,1152.0 L374.4,1154.2 L376.5,1156.2 L378.7,1158.2 L380.9,1160.1 L383.3,1162.0 L385.7,1163.7 L388.2,1165.3 L390.7,1166.8 L393.4,1168.2 L396.0,1169.5 L398.8,1170.7 L401.5,1171.9 L404.3,1173.0 L407.2,1174.0 L410.0,1175.0 L412.9,1175.9 L415.8,1176.8 L418.7,1177.7 L421.6,1178.5 L424.5,1179.2 L427.4,1179.9 L430.3,1180.6 L433.3,1181.2 L436.2,1181.7 L439.2,1182.2 L442.1,1182.7 L445.1,1183.1 L448.1,1183.5 L451.1,1183.9 L454.1,1184.1 L457.1,1184.4 L460.0,1184.6 L463.0,1184.7 L466.0,1184.8 L469.0,1184.9 L472.0,1184.9 L475.0,1184.9 L478.1,1184.8 L481.1,1184.7 L484.1,1184.6 L487.0,1184.4 L490.0,1184.1 L493.0,1183.9 L496.0,1183.5 L499.0,1183.2 L502.0,1182.8 L505.0,1182.3 L507.9,1181.8 L510.9,1181.3 L513.8,1180.7 L516.8,1180.1 L519.7,1179.4 L522.6,1178.7 L525.5,1178.0 L528.4,1177.2 L531.3,1176.4 L534.2,1175.5 L537.1,1174.6 L539.9,1173.6 L542.8,1172.7 L545.6,1171.6 L548.4,1170.6 L551.2,1169.5 L554.0,1168.3 L556.7,1167.1 L559.5,1165.9 L562.2,1164.7 L564.9,1163.4 L567.6,1162.0 L570.3,1160.7 L572.9,1159.3 L575.6,1157.8 L578.2,1156.4 L580.8,1154.9 L583.4,1153.3 L585.9,1151.8 L588.5,1150.2 L591.0,1148.5 L593.5,1146.8 L596.0,1145.1 L598.4,1143.4 L600.8,1141.6 L603.3,1139.8 L605.6,1138.0 L608.0,1136.2 L610.3,1134.3 L612.7,1132.4 L614.9,1130.4 L617.2,1128.5 L619.4,1126.5 L621.6,1124.4 L623.8,1122.4 L626.0,1120.3 L628.1,1118.2 L630.2,1116.1 L632.3,1113.9 L634.3,1111.7 L636.4,1109.5 L638.3,1107.3 L640.3,1105.0 L642.2,1102.8 L644.1,1100.5 L646.0,1098.1 L647.8,1095.8 L649.6,1093.4 L651.4,1091.0 L653.2,1088.6 L654.9,1086.2 L656.5,1083.8 L658.2,1081.3 L659.8,1078.8 L661.4,1076.3 L663.0,1073.8 L664.5,1071.2 L666.0,1068.7 L667.5,1066.1 L668.9,1063.5 L670.3,1060.9 L671.7,1058.3 L673.1,1055.6 L674.4,1053.0 L675.7,1050.3 L677.0,1047.6 L678.3,1044.9 L679.5,1042.2 L680.8,1039.5 L682.0,1036.7 L683.1,1034.0 L684.3,1031.2 L685.4,1028.5 L686.5,1025.7 L687.6,1022.9 L688.7,1020.1 L689.7,1017.3 L690.8,1014.4 L691.8,1011.6 L692.8,1008.7 L693.8,1005.9 L694.7,1003.0 L695.7,1000.2 L696.6,997.3 L697.5,994.4 L698.4,991.5 L699.3,988.6 L700.2,985.7 L701.0,982.8 L701.9,979.9 L702.7,977.0 L703.5,974.1 L704.3,971.2 L705.1,968.2 L705.9,965.3 L706.7,962.4 L707.4,959.5 L708.2,956.5 L708.9,953.6 L709.7,950.7 L710.4,947.7 L711.1,944.8 L711.8,941.9 L712.5,938.9 L713.2,936.0 L713.9,933.1 L714.6,930.1 L715.3,927.2 L715.9,924.2 L716.6,921.3 L717.2,918.4 L717.9,915.4 L718.5,912.5 L719.2,909.6 L719.8,906.6 L720.4,903.7 L721.0,900.7 L721.6,897.8 L722.2,894.9 L722.8,891.9 L723.4,889.0 L724.0,886.0 L724.6,883.1 L725.1,880.2 L725.7,877.2 L726.2,874.3 L726.8,871.3 L727.3,868.4 L727.9,865.4 L728.4,862.5 L728.9,859.6 L729.5,856.6 L730.0,853.7 L730.5,850.7 L731.0,847.8 L731.5,844.8 L732.0,841.9 L732.5,838.9 L733.0,836.0 L733.4,833.0 L733.9,830.1 L734.4,827.1 L734.8,824.2 L735.3,821.2 L735.8,818.3 L736.2,815.3 L736.7,812.4 L737.1,809.4 L737.6,806.5 L738.0,803.5 L738.4,800.5 L738.8,797.6 L739.3,794.6 L739.7,791.7 L740.1,788.7 L740.5,785.7 L740.9,782.8 L741.3,779.8 L741.7,776.9 L742.1,773.9 L742.5,770.9 L742.9,768.0 L743.3,765.0 L743.7,762.1 L744.1,759.1 L744.5,756.1 L744.9,753.2 L745.2,750.2 L745.6,747.2 L746.0,744.2 L746.4,741.3 L746.7,738.3 L747.1,735.3 L747.5,732.4 L747.8,729.4 L748.2,726.4 L748.5,723.4 L748.9,720.5 L749.2,717.5 L749.6,714.5 L750.0,711.5 L750.3,708.6 L750.7,705.6 L751.0,702.6 L751.4,699.6 L751.7,696.7 L752.1,693.7 L752.4,690.7 L752.8,687.7 L753.1,684.7 L753.5,681.8 L753.8,678.8 L754.2,675.8 L754.5,672.8 L754.9,669.8 L755.2,666.9 L755.6,663.9 L755.9,660.9 L756.3,657.9 L756.6,654.9 L757.0,651.9 L757.3,649.0 L757.7,646.0 L758.0,643.0 L758.4,640.0 L758.8,637.0 L759.1,634.0 L759.5,631.0 L759.9,628.1 L760.2,625.1 L760.6,622.1 L761.0,619.1 L761.4,616.1 L761.7,613.1 L762.1,610.1 L762.5,607.2 L762.9,604.2 L763.3,601.2 L763.7,598.2 L764.1,595.2 L764.5,592.2 L764.9,589.3 L765.3,586.3 L765.7,583.3 L766.2,580.3 L766.6,577.3 L767.0,574.3 L767.4,571.3 L767.9,568.4 L768.3,565.4 L768.8,562.4 L769.2,559.4 L769.7,556.4 L770.1,553.5 L770.6,550.5 L771.1,547.5 L771.5,544.5 L772.1,541.5 L772.6,538.6 L773.2,535.6 L773.9,532.7 L774.6,529.8 L775.5,526.9 L776.4,524.1 L777.5,521.3 L778.7,518.5 L780.1,515.8 L781.6,513.2 L783.3,510.6 L785.2,508.2 L787.2,506.0 L789.3,504.1 L791.5,502.6 L793.8,501.5 L796.2,500.9 L798.7,500.9 L801.2,501.4 L803.7,502.3 L806.2,503.6 L808.6,505.3 L811.0,507.2 L813.3,509.4 L815.5,511.8 L817.6,514.3 L819.5,517.0 L821.3,519.6 L822.9,522.3 L824.4,525.1 L825.8,527.8 L827.1,530.6 L828.4,533.4 L829.6,536.2 L830.8,538.9 L832.1,541.6 L833.4,544.4 L834.6,547.1 L835.9,549.8 L837.2,552.5 L838.5,555.1 L839.8,557.8 L841.1,560.5 L842.3,563.1 L843.6,565.8 L844.8,568.5 L846.1,571.2 L847.3,573.9 L848.5,576.6 L849.7,579.3 L850.8,582.1 L852.0,584.8 L853.1,587.6 L854.2,590.3 L855.3,593.1 L856.4,595.9 L857.5,598.6 L858.5,601.4 L859.6,604.2 L860.6,607.0 L861.6,609.8 L862.7,612.7 L863.7,615.5 L864.7,618.3 L865.7,621.1 L866.7,624.0 L867.7,626.8 L868.6,629.6 L869.6,632.5 L870.6,635.3 L871.6,638.2 L872.6,641.0 L873.5,643.9 L874.5,646.7 L875.5,649.6 L876.5,652.4 L877.4,655.3 L878.4,658.1 L879.4,661.0 L880.4,663.8 L881.4,666.7 L882.4,669.5 L883.4,672.3 L884.4,675.2 L885.4,678.0 L886.5,680.8 L887.5,683.7 L888.6,686.5 L889.6,689.3 L890.7,692.1 L891.8,694.9 L892.9,697.7 L894.0,700.5 L895.1,703.3 L896.3,706.0 L897.4,708.8 L898.6,711.6 L899.7,714.3 L900.9,717.1 L902.1,719.8 L903.3,722.6 L904.5,725.3 L905.8,728.0 L907.0,730.8 L908.3,733.5 L909.6,736.2 L910.9,738.9 L912.2,741.6 L913.5,744.2 L914.8,746.9 L916.2,749.6 L917.6,752.2 L919.0,754.9 L920.4,757.5 L921.8,760.1 L923.2,762.8 L924.7,765.4 L926.2,768.0 L927.7,770.6 L929.2,773.1 L930.7,775.7 L932.2,778.3 L933.8,780.8 L935.4,783.3 L937.0,785.9 L938.6,788.4 L940.3,790.9 L941.9,793.4 L943.6,795.9 L945.3,798.4 L947.0,800.8 L948.7,803.3 L950.4,805.8 L952.1,808.2 L953.9,810.7 L955.6,813.1 L957.4,815.6 L959.1,818.0 L960.9,820.5 L962.6,822.9 L964.4,825.4 L966.1,827.8 L967.9,830.2 L969.6,832.7 L971.4,835.1 L973.1,837.6 L974.9,840.0 L976.6,842.5 L978.3,844.9 L980.0,847.4 L981.7,849.9 L983.4,852.4 L985.1,854.8 L986.8,857.3 L988.4,859.8 L990.0,862.3 L991.6,864.9 L993.2,867.4 L994.8,869.9 L996.4,872.5 L997.9,875.1 L999.4,877.6 L1000.9,880.2 L1002.3,882.8 L1003.8,885.4 L1005.2,888.1 L1006.5,890.7 L1007.9,893.4 L1009.2,896.1 L1010.5,898.8 L1011.8,901.5 L1013.0,904.2 L1014.2,906.9 L1015.4,909.7 L1016.6,912.4 L1017.8,915.2 L1018.9,918.0 L1020.1,920.7 L1021.2,923.5 L1022.3,926.3 L1023.4,929.1 L1024.5,931.9 L1025.6,934.7 L1026.7,937.5 L1027.7,940.4 L1028.8,943.2 L1029.8,946.0 L1030.9,948.8 L1031.9,951.7 L1033.0,954.5 L1034.1,957.3 L1035.1,960.1 L1036.2,962.9 L1037.2,965.8 L1038.3,968.6 L1039.4,971.4 L1040.5,974.2 L1041.6,977.0 L1042.7,979.8 L1043.8,982.6 L1044.9,985.4 L1046.0,988.1 L1047.2,990.9 L1048.4,993.7 L1049.5,996.5 L1050.7,999.2 L1051.9,1002.0 L1053.0,1004.7 L1054.2,1007.5 L1055.4,1010.2 L1056.6,1013.0 L1057.8,1015.7 L1059.0,1018.4 L1060.2,1021.2 L1061.3,1023.9 L1062.5,1026.7 L1063.7,1029.4 L1064.9,1032.2 L1066.0,1034.9 L1067.2,1037.7 L1068.3,1040.4 L1069.5,1043.2 L1070.6,1045.9 L1071.7,1048.7 L1072.8,1051.5 L1073.9,1054.3 L1075.0,1057.0 L1076.0,1059.8 L1077.1,1062.6 L1078.1,1065.4 L1079.1,1068.2 L1080.1,1071.0 L1081.1,1073.8 L1082.1,1076.7 L1083.1,1079.5 L1084.0,1082.3 L1085.0,1085.1 L1085.9,1088.0 L1086.9,1090.8 L1087.8,1093.7 L1088.7,1096.5 L1089.7,1099.3 L1090.6,1102.2 L1091.6,1105.0 L1092.5,1107.9 L1093.5,1110.7 L1094.4,1113.6 L1095.4,1116.4 L1096.4,1119.3 L1097.4,1122.1 L1098.3,1124.9 L1099.3,1127.8 L1100.4,1130.6 L1101.4,1133.5 L1102.4,1136.3 L1103.4,1139.1 L1104.5,1141.9 L1105.5,1144.8 L1106.6,1147.6 L1107.6,1150.4 L1108.7,1153.3 L1109.8,1156.1 L1110.9,1158.9 L1111.9,1161.7 L1113.0,1164.5 L1114.1,1167.3 L1115.2,1170.2 L1116.4,1173.0 L1117.5,1175.8 L1118.6,1178.6 L1119.7,1181.4 L1120.9,1184.2 L1122.0,1187.0 L1123.2,1189.8 L1124.3,1192.6 L1125.5,1195.4 L1126.6,1198.1 L1127.8,1200.9 L1129.0,1203.7 L1130.2,1206.5 L1131.3,1209.3 L1132.5,1212.0 L1133.7,1214.8 L1134.9,1217.6 L1136.1,1220.3 L1137.3,1223.1 L1138.5,1225.8 L1139.7,1228.6 L1140.9,1231.4 L1142.1,1234.1 L1143.3,1236.8 L1144.6,1239.6 L1145.8,1242.3 L1147.0,1245.1 L1148.2,1247.8 L1149.5,1250.5 L1150.7,1253.2 L1152.0,1256.0 L1153.2,1258.7 L1154.5,1261.4 L1155.7,1264.1 L1157.0,1266.8 L1158.2,1269.5 L1159.5,1272.2 L1160.8,1274.9 L1162.0,1277.6 L1163.3,1280.3 L1164.6,1283.0 L1165.9,1285.7 L1167.2,1288.4 L1168.5,1291.1 L1169.8,1293.8 L1171.1,1296.5 L1172.4,1299.1 L1173.7,1301.8 L1175.0,1304.5 L1176.3,1307.1 L1177.7,1309.8 L1179.0,1312.5 L1180.3,1315.1 L1181.7,1317.8 L1183.0,1320.5 L1184.4,1323.1 L1185.7,1325.8 L1187.1,1328.4 L1188.4,1331.1 L1189.8,1333.7 L1191.2,1336.4 L1192.6,1339.0 L1193.9,1341.6 L1195.3,1344.3 L1196.7,1346.9 L1198.1,1349.5 L1199.5,1352.2 L1201.0,1354.8 L1202.4,1357.4 L1203.8,1360.1 L1205.2,1362.7 L1206.7,1365.3 L1208.1,1367.9 L1209.5,1370.5 L1211.0,1373.2 L1212.4,1375.8 L1213.9,1378.4 L1215.4,1381.0 L1216.9,1383.6 L1218.3,1386.2 L1219.8,1388.8 L1221.3,1391.4 L1222.8,1394.0 L1224.3,1396.6 L1225.8,1399.2 L1227.3,1401.8 L1228.9,1404.4 L1230.4,1407.0 L1231.9,1409.6 L1233.5,1412.2 L1235.0,1414.8 L1236.6,1417.4 L1238.2,1419.9 L1239.7,1422.5 L1241.3,1425.1 L1242.9,1427.7 L1244.5,1430.3 L1246.1,1432.9 L1247.7,1435.4 L1249.3,1438.0 L1250.9,1440.6 L1252.5,1443.2 L1254.2,1445.7 L1255.8,1448.3 L1257.4,1450.9 L1259.1,1453.5 L1260.7,1456.0 L1262.4,1458.6 L1264.1,1461.1 L1265.8,1463.7 L1267.5,1466.2 L1269.2,1468.8 L1270.9,1471.3 L1272.7,1473.8 L1274.4,1476.3 L1276.2,1478.8 L1278.0,1481.3 L1279.8,1483.7 L1281.6,1486.1 L1283.4,1488.6 L1285.3,1491.0 L1287.1,1493.3 L1289.0,1495.7 L1290.9,1498.0 L1292.8,1500.3 L1294.8,1502.6 L1296.8,1504.8 L1298.7,1507.1 L1300.8,1509.3 L1302.8,1511.4 L1304.9,1513.6 L1306.9,1515.7 L1309.1,1517.7 L1311.2,1519.8 L1313.4,1521.7 L1315.6,1523.7 L1317.8,1525.6 L1320.0,1527.5 L1322.3,1529.3 L1324.6,1531.1 L1327.0,1532.9 L1329.3,1534.6 L1331.7,1536.2 L1334.2,1537.8 L1336.6,1539.4 L1339.2,1540.9 L1341.7,1542.4 L1344.3,1543.8 L1346.9,1545.1 L1349.5,1546.4 L1352.2,1547.7 L1354.9,1548.9 L1357.6,1550.1 L1360.4,1551.2 L1363.1,1552.3 L1365.9,1553.4 L1368.8,1554.4 L1371.6,1555.4 L1374.5,1556.3 L1377.4,1557.2 L1380.3,1558.1 L1383.2,1558.9 L1386.1,1559.7 L1389.0,1560.5 L1392.0,1561.2 L1395.0,1561.9 L1397.9,1562.6 L1400.9,1563.3 L1403.9,1563.9 L1406.9,1564.6 L1409.9,1565.1 L1412.9,1565.7 L1415.9,1566.3 L1418.9,1566.8 L1421.9,1567.3 L1424.9,1567.8 L1427.9,1568.3 L1430.9,1568.8 L1433.9,1569.2 L1436.9,1569.7 L1439.9,1570.1 L1442.9,1570.5 L1445.9,1570.9 L1448.9,1571.2 L1451.9,1571.6 L1454.9,1571.9 L1457.9,1572.3 L1460.9,1572.6 L1463.9,1572.9 L1466.9,1573.1 L1469.9,1573.4 L1472.9,1573.7 L1475.9,1573.9 L1478.9,1574.1 L1481.9,1574.4 L1484.9,1574.6 L1487.9,1574.8 L1490.9,1574.9 L1493.9,1575.1 L1496.9,1575.3 L1499.9,1575.4 L1502.9,1575.6 L1505.9,1575.7 L1508.9,1575.8 L1511.9,1575.9 L1514.9,1576.0 L1517.9,1576.1 L1520.9,1576.2 L1523.9,1576.3 L1526.9,1576.3 L1529.9,1576.4 L1532.9,1576.4 L1535.9,1576.5 L1538.9,1576.5 L1541.9,1576.6 L1544.9,1576.6 L1547.9,1576.6 L1550.9,1576.6 L1553.9,1576.6 L1556.9,1576.6 L1559.9,1576.6 L1562.9,1576.6 L1565.9,1576.6 L1568.9,1576.5 L1571.9,1576.5 L1574.9,1576.5 L1577.9,1576.5 L1580.8,1576.4 L1583.8,1576.4 L1586.8,1576.4 L1589.8,1576.3 L1592.8,1576.3 L1595.8,1576.2 L1598.8,1576.2 L1601.8,1576.1 L1604.8,1576.1 L1607.8,1576.0 L1610.8,1576.0 L1613.8,1575.9 L1616.8,1575.9 L1619.8,1575.8 L1622.8,1575.7 L1625.7,1575.7 L1628.7,1575.6 L1631.7,1575.6 L1634.7,1575.5 L1637.7,1575.4 L1640.7,1575.4 L1643.7,1575.3 L1646.7,1575.3 L1649.7,1575.2 L1652.7,1575.1 L1655.6,1575.1 L1658.6,1575.0 L1661.6,1574.9 L1664.6,1574.9 L1667.6,1574.8 L1670.6,1574.7 L1673.6,1574.7 L1676.6,1574.6 L1679.6,1574.5 L1682.5,1574.5 L1685.5,1574.4 L1688.5,1574.3 L1691.5,1574.2 L1694.5,1574.2 L1697.5,1574.1 L1700.5,1574.0 L1703.5,1574.0 L1706.5,1573.9 L1709.4,1573.8 L1712.4,1573.7 L1715.4,1573.7 L1718.4,1573.6 L1721.4,1573.5 L1724.4,1573.4 L1727.4,1573.4 L1730.4,1573.3 L1733.4,1573.2 L1736.3,1573.1 L1739.3,1573.1 L1742.3,1573.0 L1745.3,1572.9 L1748.3,1572.8 L1751.3,1572.8 L1754.3,1572.7 L1757.3,1572.6 L1760.3,1572.5 L1763.3,1572.5 L1766.3,1572.4 L1769.2,1572.3 L1772.2,1572.3 L1775.2,1572.2 L1778.2,1572.1 L1781.2,1572.0 L1784.2,1572.0 L1787.2,1571.9 L1790.2,1571.8 L1793.2,1571.8 L1796.2,1571.7 L1799.2,1571.6 L1802.2,1571.6 L1805.2,1571.5 L1808.2,1571.4 L1811.2,1571.4 L1814.2,1571.3 L1817.2,1571.2 L1820.2,1571.2 L1823.2,1571.1 L1826.2,1571.0 L1829.2,1571.0 L1832.2,1570.9 L1835.2,1570.9 L1838.2,1570.8 L1841.2,1570.7 L1844.2,1570.7 L1847.2,1570.6 L1850.2,1570.6 L1853.2,1570.5 L1856.2,1570.5 L1859.2,1570.4 L1862.2,1570.4 L1865.2,1570.3 L1868.2,1570.3 L1871.2,1570.2 L1874.2,1570.2 L1877.2,1570.1 L1880.2,1570.1 L1883.2,1570.0 L1886.3,1570.0 L1889.3,1570.0 L1892.3,1569.9 L1895.3,1569.9 L1898.3,1569.8 L1901.3,1569.8 L1904.3,1569.8 L1907.4,1569.7 L1910.4,1569.7 L1913.4,1569.7 L1916.4,1569.6 L1919.4,1569.6 L1922.4,1569.6 L1925.5,1569.6 L1928.5,1569.6 L1931.5,1569.5 L1934.5,1569.5 L1937.6,1569.5 L1940.6,1569.5 L1943.6,1569.5 L1946.6,1569.5 L1949.7,1569.4 L1952.7,1569.4 L1955.7,1569.4 L1958.7,1569.4 L1961.8,1569.4 L1964.8,1569.4 L1967.8,1569.4 L1970.9,1569.4 L1973.9,1569.4 L1976.9,1569.4 L1980.0,1569.4 L1983.0,1569.4 L1986.0,1569.4 L1989.1,1569.4 L1992.1,1569.4 L1995.1,1569.4 L1998.2,1569.3 L2001.2,1569.3 L2004.2,1569.2 L2007.2,1569.1 L2010.3,1569.1 L2013.3,1569.0 L2016.3,1568.9 L2019.3,1568.8 L2022.3,1568.6 L2025.3,1568.5 L2028.3,1568.3 L2031.3,1568.1 L2034.3,1567.9 L2037.3,1567.7 L2040.2,1567.4 L2043.2,1567.1 L2046.2,1566.8 L2049.1,1566.5 L2052.1,1566.1 L2055.0,1565.8 L2058.0,1565.4 L2060.9,1564.9 L2063.8,1564.4 L2066.7,1564.0 L2069.6,1563.4 L2072.5,1562.9 L2075.4,1562.3 L2078.3,1561.6 L2081.2,1561.0 L2084.1,1560.3 L2086.9,1559.5 L2089.8,1558.7 L2092.6,1557.9 L2095.4,1557.1 L2098.2,1556.2 L2101.0,1555.2 L2103.8,1554.2 L2106.6,1553.2 L2109.4,1552.1 L2112.2,1551.0 L2114.9,1549.8 L2117.6,1548.6 L2120.4,1547.3 L2123.1,1546.0 L2125.8,1544.6 L2128.4,1543.2 L2131.1,1541.7 L2133.0,1539.0"/>
</g>
<g stroke-width="14.5" stroke-linecap="round">
<line x1="1181.5" y1="253.4" x2="1379" y2="253.4" stroke="#FF4042"/>
<line x1="1181.5" y1="361.7" x2="1379" y2="361.7" stroke="#006CE2"/>
<line x1="1181.5" y1="470" x2="1379" y2="470" stroke="#00AF66"/>
</g>
<g style="font-size:81px">
<text x="1399.7" y="282.1">a: bare GCE</text>
<text x="1399.5" y="390.9">c: BC/GCE</text>
<text x="1403" y="499.4">b: BC@TiO<tspan dy="21.6">2</tspan><tspan dy="-21.6">NPs/GCE</tspan></text>
</g>
</svg></body></html>
